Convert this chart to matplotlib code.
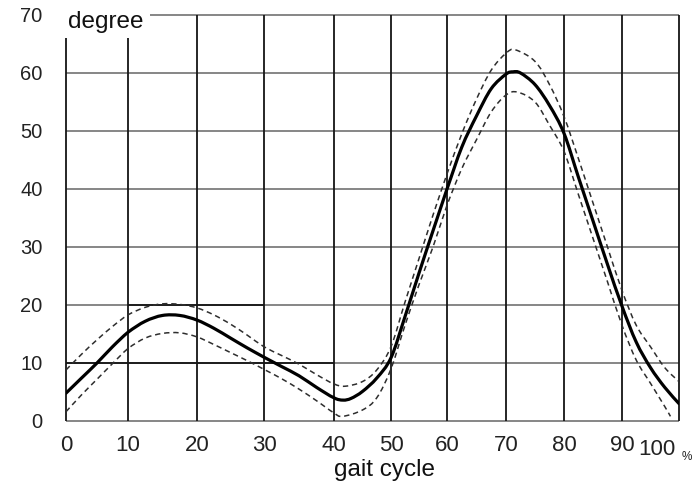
import numpy as np
import matplotlib
matplotlib.use('Agg')
import matplotlib.pyplot as plt
from matplotlib.path import Path
from matplotlib.patches import PathPatch

# knee flexion over the gait cycle
mean_x = [0, 2.5, 5, 7.5, 10, 12.5, 15, 17.5, 20, 22.5, 25, 27.5, 30, 32.5, 35, 37.5,
          40, 41.6, 43, 45, 47.5, 50, 52.5, 55, 57.5, 60, 62.5, 65, 67.5, 70, 71.2, 72.5,
          75, 77.5, 80, 82.5, 85, 87.5, 90, 92.5, 95, 97.5, 100]
mean_y = [4.8, 7.4, 10, 12.8, 15.3, 17.2, 18.2, 18.2, 17.4, 16.0, 14.3, 12.6, 11.0, 9.4, 7.8, 5.8,
          4.0, 3.6, 3.9, 5.1, 7.4, 10.9, 18, 25.5, 32.8, 40, 47.2, 52.6, 57.3, 59.8, 60.2, 60.0,
          58.0, 54.4, 49.6, 42.0, 34.5, 27, 19.8, 13.6, 9.2, 5.8, 3.0]

upper_x = [0, 2.5, 5, 7.5, 10, 12.5, 15, 17.5, 20, 22.5, 25, 27.5, 30, 32.5, 35, 37.5,
           40, 42, 45, 47.5, 50, 52.5, 55, 57.5, 60, 62.5, 65, 67.5, 70, 71.6,
           75, 77.5, 80, 82.5, 85, 87.5, 90, 92.5, 95, 97.5, 100]
upper_y = [8.8, 11.5, 14, 16.3, 18.3, 19.6, 20.2, 20.1, 19.5, 18.3, 16.7, 14.8, 12.8, 11.3, 9.8, 8.0,
           6.4, 6.0, 6.8, 8.8, 12.8, 20.5, 28, 35.5, 42.6, 49.5, 55.5, 60.5, 63.4, 64.0,
           62, 58, 52.5, 45.2, 37.6, 30.0, 22.5, 16.5, 12.8, 9.2, 6.8]

lower_x = [0, 2.5, 5, 7.5, 10, 12.5, 15, 17.5, 20, 22.5, 25, 27.5, 30, 32.5, 35, 37.5,
           40, 41.5, 45, 47.5, 50, 52.5, 55, 57.5, 60, 62.5, 65, 67.5, 70, 72,
           75, 77.5, 80, 82.5, 85, 87.5, 90, 92.5, 95, 97.5, 98.5]
lower_y = [1.6, 4.5, 7.2, 9.9, 12.5, 14.3, 15.1, 15.2, 14.5, 13.2, 11.8, 10.4, 8.9, 7.3, 5.5, 3.5,
           1.4, 0.8, 1.9, 4.0, 9.0, 16.5, 23.5, 30, 37.2, 43.5, 48.5, 53.3, 56.2, 56.7,
           55, 51, 46.5, 39.0, 31.5, 24.0, 16.5, 10.5, 6.5, 2.5, 0.8]

x_ticks = [0, 10, 20, 30, 40, 50, 60, 70, 80, 90, 100]
x_labels = ['0', '10', '20', '30', '40', '50', '60', '70', '80', '90', '']
y_ticks = [0, 10, 20, 30, 40, 50, 60, 70]

# the hand drawn grid is not evenly spaced, so bend the x axis to match it
scale_px = np.array([66, 128, 197, 264, 334, 391, 447, 506, 564, 622, 679], float)
scale_g = np.array(x_ticks, float)


def fwd(x):
    x = np.asarray(x, float)
    y = np.interp(x, scale_g, scale_px)
    y = np.where(x < 0, scale_px[0] + x * 6.2, y)
    y = np.where(x > 100, scale_px[-1] + (x - 100) * 5.7, y)
    return y


def inv(p):
    p = np.asarray(p, float)
    x = np.interp(p, scale_px, scale_g)
    x = np.where(p < scale_px[0], (p - scale_px[0]) / 6.2, x)
    x = np.where(p > scale_px[-1], 100 + (p - scale_px[-1]) / 5.7, x)
    return x


def smooth_path(xs, ys):
    # catmull-rom through the points, written as cubic bezier segments
    pts = np.column_stack([xs, ys]).astype(float)
    ext = np.vstack([pts[0], pts, pts[-1]])
    verts = [pts[0]]
    codes = [Path.MOVETO]
    for i in range(1, len(ext) - 2):
        p0, p1, p2, p3 = ext[i - 1], ext[i], ext[i + 1], ext[i + 2]
        verts += [p1 + (p2 - p0) / 6, p2 - (p3 - p1) / 6, p2]
        codes += [Path.CURVE4] * 3
    return Path(verts, codes)


plt.rcParams['font.family'] = ['Liberation Sans', 'DejaVu Sans']

fig = plt.figure(figsize=(6.97, 4.91), dpi=100)
ax = fig.add_axes([66 / 697, 1 - 421 / 491, 613 / 697, 406 / 491])
ax.set_xscale('function', functions=(fwd, inv))
ax.set_xlim(0, 100)
ax.set_ylim(0, 70)
for s in ax.spines.values():
    s.set_visible(False)

grid_gray = '#7d7d7d'
grid_dark = '#151515'

# horizontal lines (gray), the top one starts after the "degree" label
for v in y_ticks[:-1]:
    ax.hlines(v, 0, 100, color=grid_gray, lw=1.3, zorder=1, clip_on=False)
ax.hlines(70, inv(150), 100, color=grid_gray, lw=1.3, zorder=1, clip_on=False)
# the two darker stretches in the lower left
ax.hlines(20, 10, 30, color=grid_dark, lw=1.3, zorder=1.5)
ax.hlines(10, 0, 40, color=grid_dark, lw=1.3, zorder=1.5)

# vertical lines (black), first two stop below the label
for v in x_ticks:
    top = (421 - 38) / 5.8 if v < 20 else 70
    ax.vlines(v, 0, top, color=grid_dark, lw=1.3, zorder=2, clip_on=False)

for xs, ys in [(upper_x, upper_y), (lower_x, lower_y)]:
    ax.add_patch(PathPatch(smooth_path(xs, ys), fill=False, edgecolor='#2e2e2e',
                           lw=1.1, ls=(0, (3.5, 2.5)), zorder=3))
ax.add_patch(PathPatch(smooth_path(mean_x, mean_y), fill=False, edgecolor='black',
                       lw=2.3, zorder=4, capstyle='round'))

ax.set_yticks(y_ticks)
ax.set_yticklabels([str(v) for v in y_ticks], fontsize=14.5, color='#222222')
ax.set_xticks(x_ticks)
ax.set_xticklabels(x_labels, fontsize=16, color='#222222')
ax.tick_params(axis='y', length=0, pad=17)
ax.tick_params(axis='x', length=0, pad=10)
ax.minorticks_off()

ax.text(inv(676), -0.0445, '100', transform=ax.get_xaxis_transform(), ha='right', va='top',
        fontsize=16, color='#222222')
ax.text(inv(682), -0.075, '%', transform=ax.get_xaxis_transform(), ha='left', va='top',
        fontsize=8.5, color='#222222')

fig.text(68 / 697, 1 - 28 / 491, 'degree', fontsize=17.5, color='#111111', va='baseline')
fig.text(384 / 697, 1 - 470 / 491, 'gait cycle', fontsize=17.5, color='#111111',
         ha='center', va='center')

fig.savefig('out.png', dpi=100, facecolor='white')
